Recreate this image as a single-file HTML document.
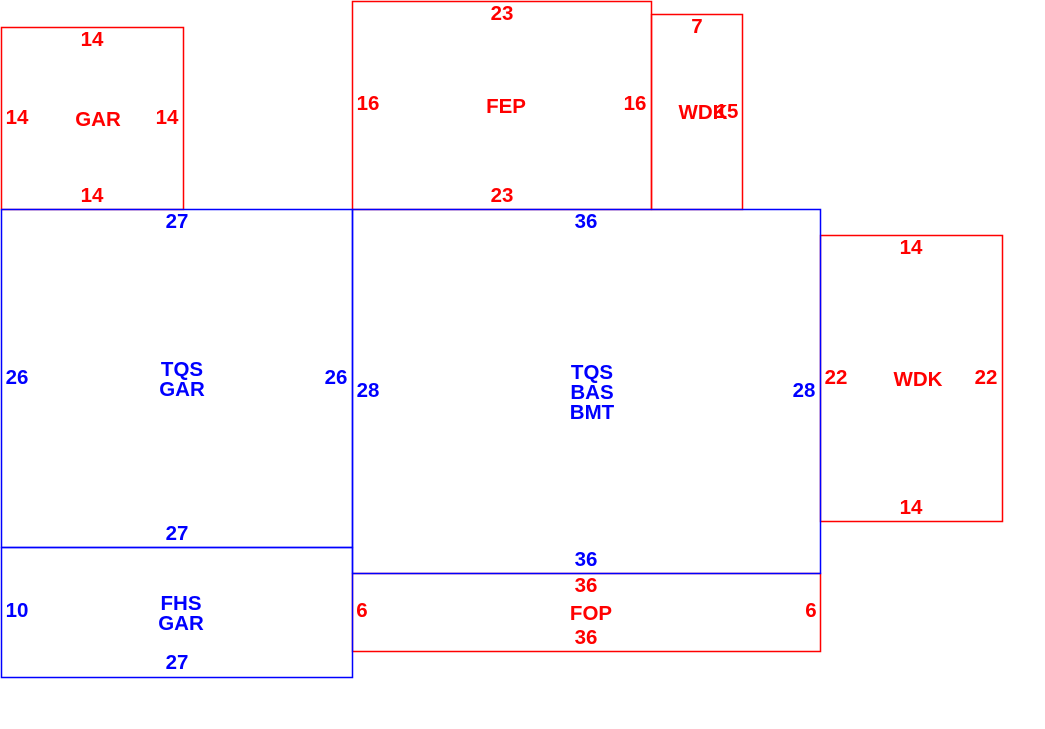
<!DOCTYPE html>
<html><head><meta charset="utf-8"><style>
html,body{margin:0;padding:0;background:#fff;}
svg text{font-family:"Liberation Sans",sans-serif;font-weight:bold;font-size:20.5px;text-anchor:middle;}
.r{fill:#f00}.b{fill:#00f}
</style></head><body>
<svg width="1045" height="724" viewBox="0 0 1045 724" xmlns="http://www.w3.org/2000/svg">
<g fill="none" stroke-width="1.5">
<rect x="1.5" y="27.5" width="182" height="182" stroke="#f00"/>
<rect x="352.5" y="1.5" width="299" height="208" stroke="#f00"/>
<rect x="651.5" y="14.5" width="91" height="195" stroke="#f00"/>
<rect x="820.5" y="235.5" width="182" height="286" stroke="#f00"/>
<rect x="352.5" y="573.5" width="468" height="78" stroke="#f00"/>
<rect x="1.5" y="209.5" width="351" height="338" stroke="#00f"/>
<rect x="352.5" y="209.5" width="468" height="364" stroke="#00f"/>
<rect x="1.5" y="547.5" width="351" height="130" stroke="#00f"/>
</g>
<g class="r">
<text x="92" y="46">14</text><text x="92" y="202">14</text>
<text x="17" y="124">14</text><text x="167" y="124">14</text>
<text x="98" y="126">GAR</text>
<text x="502" y="20">23</text><text x="502" y="202">23</text>
<text x="368" y="110">16</text><text x="635" y="110">16</text>
<text x="506" y="113">FEP</text>
<text x="697" y="33">7</text>
<text x="703" y="119">WDK</text><text x="727" y="118">15</text>
<text x="911" y="254">14</text><text x="911" y="514">14</text>
<text x="836" y="384">22</text><text x="986" y="384">22</text>
<text x="918" y="386">WDK</text>
<text x="586" y="592">36</text><text x="586" y="644">36</text>
<text x="362" y="617">6</text><text x="811" y="617">6</text>
<text x="591" y="620">FOP</text>
</g>
<g class="b">
<text x="177" y="228">27</text><text x="177" y="540">27</text>
<text x="17" y="384">26</text><text x="336" y="384">26</text>
<text x="182" y="376">TQS</text><text x="182" y="396">GAR</text>
<text x="586" y="228">36</text><text x="586" y="566">36</text>
<text x="368" y="397">28</text><text x="804" y="397">28</text>
<text x="592" y="379">TQS</text><text x="592" y="399">BAS</text><text x="592" y="419">BMT</text>
<text x="17" y="617">10</text><text x="177" y="669">27</text>
<text x="181" y="610">FHS</text><text x="181" y="630">GAR</text>
</g>
</svg>
</body></html>
